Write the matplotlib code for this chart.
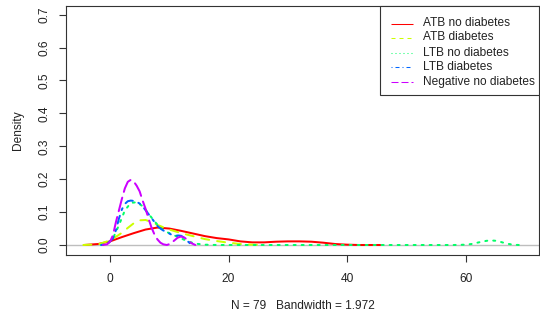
import matplotlib
matplotlib.use("Agg")
import matplotlib.pyplot as plt
from matplotlib.patches import Rectangle

plt.rcParams['font.family'] = ['Liberation Sans', 'DejaVu Sans']
plt.rcParams['lines.scale_dashes'] = False

labels = ["ATB no diabetes", "ATB diabetes", "LTB no diabetes", "LTB diabetes", "Negative no diabetes"]
colors = ["#FF0000", "#CCFF00", "#00FF66", "#0066FF", "#CC00FF"]

atb_nd_x = [-4.4, -2, 0, 2, 4, 6, 8, 10, 12, 14, 16, 18, 20, 22, 24, 26, 28, 30, 32, 34, 36, 38, 40, 42, 45.6]
atb_nd_y = [0.0, 0.003, 0.011, 0.024, 0.036, 0.047, 0.053, 0.050, 0.043, 0.035, 0.027, 0.021, 0.017, 0.011, 0.008, 0.008, 0.010, 0.011, 0.011, 0.010, 0.007, 0.003, 0.001, 0.0, 0.0]

atb_d_x = [-4.5, -2, 0, 1, 2, 3, 4, 5, 6, 7, 8, 9, 10, 12, 14, 16, 18, 20, 22, 24, 25.5]
atb_d_y = [0.0, 0.002, 0.014, 0.025, 0.037, 0.052, 0.066, 0.075, 0.076, 0.07, 0.061, 0.054, 0.047, 0.036, 0.027, 0.018, 0.012, 0.007, 0.003, 0.001, 0.0]

ltb_nd_x = [-1.5, -0.5, 0.5, 1.5, 2.5, 3.5, 4.5, 5.5, 6.5, 7.5, 8.5, 9.5, 10.5, 11.5, 12.5, 13.5, 14.5, 16, 18, 20, 30, 40, 50, 58, 60, 61, 62, 63, 64, 65, 66, 67, 68, 69]
ltb_nd_y = [0.0, 0.004, 0.02, 0.06, 0.105, 0.128, 0.13, 0.118, 0.095, 0.072, 0.052, 0.04, 0.032, 0.024, 0.016, 0.009, 0.004, 0.001, 0.0, 0.0, 0.0, 0.0, 0.0, 0.0, 0.001, 0.003, 0.007, 0.011, 0.014, 0.013, 0.009, 0.004, 0.001, 0.0]

ltb_d_x = [-1.5, -0.5, 0.5, 1, 1.5, 2, 2.5, 3, 3.5, 4, 4.5, 5, 5.5, 6, 6.5, 7, 7.5, 8, 8.5, 9, 9.5, 10, 10.5, 11, 11.5, 12, 12.5, 13, 13.5, 14.2]
ltb_d_y = [0.0, 0.002, 0.02, 0.045, 0.08, 0.108, 0.125, 0.133, 0.135, 0.134, 0.131, 0.126, 0.117, 0.106, 0.094, 0.082, 0.07, 0.058, 0.05, 0.044, 0.04, 0.035, 0.03, 0.028, 0.029, 0.028, 0.022, 0.013, 0.005, 0.0]

neg_x = [-1.2, -0.5, 0, 0.5, 1, 1.5, 2, 2.5, 3, 3.5, 4, 4.5, 5, 5.5, 6, 6.5, 7, 7.5, 8, 8.5, 9, 9.6, 10.2, 10.8, 11.4, 12, 12.6, 13.2, 13.8, 14.4]
neg_y = [0.0, 0.002, 0.01, 0.03, 0.07, 0.105, 0.14, 0.172, 0.192, 0.198, 0.193, 0.18, 0.163, 0.135, 0.11, 0.08, 0.053, 0.032, 0.017, 0.007, 0.002, 0.0, 0.004, 0.013, 0.022, 0.026, 0.022, 0.013, 0.005, 0.0]

series = [(atb_nd_x, atb_nd_y), (atb_d_x, atb_d_y), (ltb_nd_x, ltb_nd_y), (ltb_d_x, ltb_d_y), (neg_x, neg_y)]

x_ticks = [0, 20, 40, 60]
y_ticks = [0.0, 0.1, 0.2, 0.3, 0.4, 0.5, 0.6, 0.7]
x_label = "N = 79   Bandwidth = 1.972"
y_label = "Density"

# R lty patterns in units of line width (px)
lty = [None, (4, 4), (1, 3), (1, 3, 4, 3), (7, 3)]

def dash(pattern, lw_px):
    if pattern is None:
        return None
    return tuple(p * lw_px * 0.72 for p in pattern)

FS = 8.6
TXT = "#222222"
W, H = 540, 321
fig = plt.figure(figsize=(W / 100, H / 100), dpi=100)
ax = fig.add_axes([66 / W, 1 - 255 / H, (539 - 66) / W, (255 - 6) / H])

ax.axhline(0, color="#BEBEBE", lw=1.0, zorder=1)

lw_px = 2.0
for (xs, ys), c, pat in zip(series, colors, lty):
    line, = ax.plot(xs, ys, color=c, lw=lw_px * 0.72, zorder=2,
                    dash_capstyle="round", solid_capstyle="round")
    d = dash(pat, lw_px)
    if d is not None:
        line.set_dashes(d)

ax.set_xlim(-7.43, 72.4)
ax.set_ylim(-0.0304, 0.7264)
ax.set_xticks(x_ticks)
ax.set_xticklabels([str(t) for t in x_ticks], fontsize=FS)
ax.set_yticks(y_ticks)
ax.set_yticklabels([f"{t:.1f}" for t in y_ticks], fontsize=FS, rotation=90, va="center")
ax.tick_params(axis="both", direction="out", length=5, width=0.8, color="#333333", labelcolor=TXT)
ax.tick_params(axis="x", pad=8)
ax.tick_params(axis="y", pad=6)
for s in ax.spines.values():
    s.set_linewidth(0.8)
    s.set_color("#333333")

fig.text(303 / W, 1 - 306 / H, x_label, ha="center", va="center", fontsize=FS, color=TXT)
fig.text(18 / W, 1 - 130 / H, y_label, ha="center", va="center", rotation=90, fontsize=FS, color=TXT)

# legend drawn on an overlay axes in pixel coordinates (top-left origin)
lax = fig.add_axes([0, 0, 1, 1], zorder=10)
lax.set_xlim(0, W)
lax.set_ylim(H, 0)
lax.axis("off")
lax.patch.set_alpha(0)
lax.add_patch(Rectangle((380, 6), 539 - 380, 95 - 6, facecolor="white",
                        edgecolor="#333333", lw=0.8, zorder=1))
row_y = [23.5, 37.5, 52.5, 66.5, 81.5]
for c, pat, lab, yy in zip(colors, lty, labels, row_y):
    ln, = lax.plot([391, 413], [yy, yy], color=c, lw=0.75, zorder=2, solid_capstyle="butt")
    d = dash(pat, 1.0)
    if d is not None:
        ln.set_dashes(d)
    lax.text(423, yy, lab, ha="left", va="center", fontsize=FS, color=TXT, zorder=3)

fig.savefig("out.png", dpi=100)
